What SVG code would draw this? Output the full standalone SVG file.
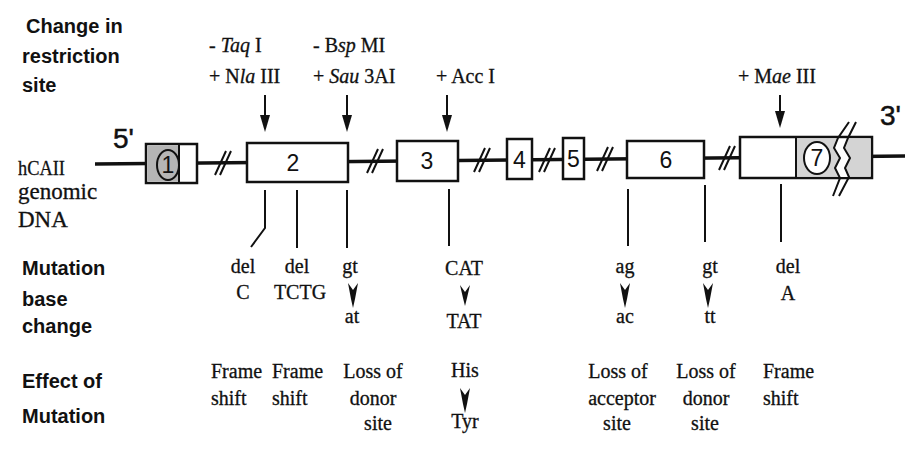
<svg xmlns="http://www.w3.org/2000/svg" width="906" height="455" viewBox="0 0 906 455">
<style>
.lab{font-family:"Liberation Sans",Arial,sans-serif;font-weight:bold;font-size:20px;fill:#111}
.ser{font-family:"Liberation Serif","Times New Roman",serif;font-size:20px;fill:#111;stroke:#111;stroke-width:0.3}
.num{font-family:"Liberation Sans",Arial,sans-serif;font-size:23px;fill:#111}
.end{font-family:"Liberation Sans",Arial,sans-serif;font-size:28px;fill:#111;stroke:#111;stroke-width:0.5}
.ex{fill:#fff;stroke:#111;stroke-width:2.5}
.dna{stroke:#111;stroke-width:3.5;fill:none}
.brk{stroke:#111;stroke-width:2;fill:none}
.vl{stroke:#111;stroke-width:2;fill:none}
.ah{fill:#111}
.c{text-anchor:middle}
</style>
<rect width="906" height="455" fill="#fff"/>
<g id="label-restriction">
<text class="lab" x="26" y="33">Change in</text>
<text class="lab" x="22" y="63">restriction</text>
<text class="lab" x="22" y="92">site</text>
</g>
<g id="label-dna">
<text class="ser" x="18" y="175" style="font-size:22px" textLength="47" lengthAdjust="spacingAndGlyphs">hCAII</text>
<text class="ser" x="18" y="199" style="font-size:23px">genomic</text>
<text class="ser" x="18" y="227" style="font-size:23px">DNA</text>
</g>
<g id="label-mutation">
<text class="lab" x="22" y="275">Mutation</text>
<text class="lab" x="22" y="306">base</text>
<text class="lab" x="22" y="333">change</text>
</g>
<g id="label-effect">
<text class="lab" x="22" y="388">Effect of</text>
<text class="lab" x="22" y="423">Mutation</text>
</g>
<g id="connectors">
<line class="dna" x1="95" y1="164" x2="905" y2="156"/>
<g class="brk">
<path d="M215,175 L226,151 M220,175 L231,151"/>
<path d="M367,173 L378,149 M372,173 L383,149"/>
<path d="M474,172 L485,148 M479,172 L490,148"/>
<path d="M539,172 L550,148 M544,172 L555,148"/>
<path d="M597,171 L608,147 M602,171 L613,147"/>
<path d="M719,170 L730,146 M724,170 L735,146"/>
</g>
<g id="top-arrows">
<line class="vl" x1="265" y1="95" x2="265" y2="118"/><path class="ah" d="M260,115 L270,115 L265,132 Z"/>
<line class="vl" x1="347" y1="95" x2="347" y2="118"/><path class="ah" d="M342,115 L352,115 L347,132 Z"/>
<line class="vl" x1="447" y1="95" x2="447" y2="118"/><path class="ah" d="M442,115 L452,115 L447,132 Z"/>
<line class="vl" x1="780" y1="95" x2="780" y2="114"/><path class="ah" d="M775,111 L785,111 L780,128 Z"/>
</g>
<g id="lower-lines">
<path class="vl" d="M265,190 L265,228 L251,247"/>
<line class="vl" x1="297" y1="190" x2="297" y2="248"/>
<line class="vl" x1="347" y1="190" x2="347" y2="248"/>
<line class="vl" x1="449" y1="189" x2="449" y2="246"/>
<line class="vl" x1="628" y1="189" x2="628" y2="246"/>
<line class="vl" x1="705" y1="185" x2="705" y2="242"/>
<line class="vl" x1="781" y1="184" x2="781" y2="242"/>
</g>
<g id="mut-arrows" class="ah">
<path d="M348,283 L353,290 L358,283 L355,299 L353,308 L351,299 Z"/>
<path d="M460,285 L465,292 L470,285 L467,298 L465,306 L463,298 Z"/>
<path d="M460,388 L465,395 L470,388 L467,404 L465,413 L463,404 Z"/>
<path d="M620,283 L625,290 L630,283 L627,299 L625,308 L623,299 Z"/>
<path d="M703,283 L708,290 L713,283 L710,299 L708,308 L706,299 Z"/>
</g>
</g>
<g id="exon1">
<rect class="ex" x="146" y="144" width="51" height="39"/>
<rect x="147.5" y="145.5" width="31" height="36" fill="#b5b5b5"/>
<line x1="179" y1="144" x2="179" y2="183" stroke="#111" stroke-width="2"/>
<ellipse cx="168" cy="165" rx="11" ry="15" fill="none" stroke="#111" stroke-width="2"/>
<text class="num c" x="168" y="173">1</text>
</g>
<g id="exon2">
<rect class="ex" x="247" y="143" width="101" height="39"/>
<text class="num c" x="293" y="171">2</text>
</g>
<g id="exon3">
<rect class="ex" x="397" y="141" width="61" height="40"/>
<text class="num c" x="427" y="169">3</text>
</g>
<g id="exon4">
<rect class="ex" x="507" y="139" width="25" height="40"/>
<text class="num c" x="519.5" y="168">4</text>
</g>
<g id="exon5">
<rect class="ex" x="563" y="138" width="21" height="41"/>
<text class="num c" x="573.5" y="167">5</text>
</g>
<g id="exon6">
<rect class="ex" x="627" y="141" width="77" height="37"/>
<text class="num c" x="666" y="168">6</text>
</g>
<g id="exon7">
<rect class="ex" x="740" y="137" width="132" height="41"/>
<rect x="796" y="138.5" width="74.5" height="38" fill="#d4d4d4"/>
<line x1="796" y1="137" x2="796" y2="178" stroke="#111" stroke-width="2"/>
<ellipse cx="817" cy="158" rx="13" ry="16" fill="#fff" stroke="#111" stroke-width="2"/>
<text class="num c" x="817" y="166">7</text>
<path d="M838,139 L848,139 L844,148 L850,158 L845,168 L849,177 L839,177 L835,168 L840,158 L834,148 Z" fill="#fff"/>
<path class="brk" d="M833,196 L840,178 L835,168 L840,158 L834,148 L838,138 L849,122"/>
<path class="brk" d="M839,196 L849,177 L845,168 L850,158 L844,148 L848,138 L856,122"/>
</g>
<g id="ends">
<text class="end" x="113" y="148">5'</text>
<text class="end" x="880" y="125">3'</text>
</g>
<g id="site-labels" class="ser">
<text x="209" y="52">- <tspan font-style="italic">Taq</tspan> I</text>
<text x="209" y="83">+ N<tspan font-style="italic">la</tspan> III</text>
<text x="313" y="52">- B<tspan font-style="italic">sp</tspan> MI</text>
<text x="313" y="83">+ <tspan font-style="italic">Sau</tspan> 3AI</text>
<text x="436" y="83">+ Acc I</text>
<text x="738" y="83">+ M<tspan font-style="italic">ae</tspan> III</text>
</g>
<g id="base-changes" class="ser c">
<text x="243" y="273">del</text><text x="243" y="299">C</text>
<text x="297" y="273">del</text><text x="300" y="299">TCTG</text>
<text x="350" y="273">gt</text><text x="352" y="323">at</text>
<text x="464" y="275">CAT</text><text x="464" y="328">TAT</text>
<text x="625" y="273">ag</text><text x="625" y="323">ac</text>
<text x="710" y="273">gt</text><text x="710" y="323">tt</text>
<text x="788" y="273">del</text><text x="788" y="300">A</text>
</g>
<g id="effects" class="ser">
<text x="211" y="378">Frame</text><text x="211" y="405">shift</text>
<text x="272" y="378">Frame</text><text x="272" y="405">shift</text>
<text class="c" x="373" y="378">Loss of</text><text class="c" x="373" y="405">donor</text><text class="c" x="378" y="430">site</text>
<text class="c" x="465" y="377">His</text><text class="c" x="465" y="428">Tyr</text>
<text class="c" x="618" y="378">Loss of</text><text class="c" x="622" y="405">acceptor</text><text class="c" x="617" y="430">site</text>
<text class="c" x="706" y="378">Loss of</text><text class="c" x="706" y="405">donor</text><text class="c" x="705" y="430">site</text>
<text x="763" y="378">Frame</text><text x="763" y="405">shift</text>
</g>
</svg>
